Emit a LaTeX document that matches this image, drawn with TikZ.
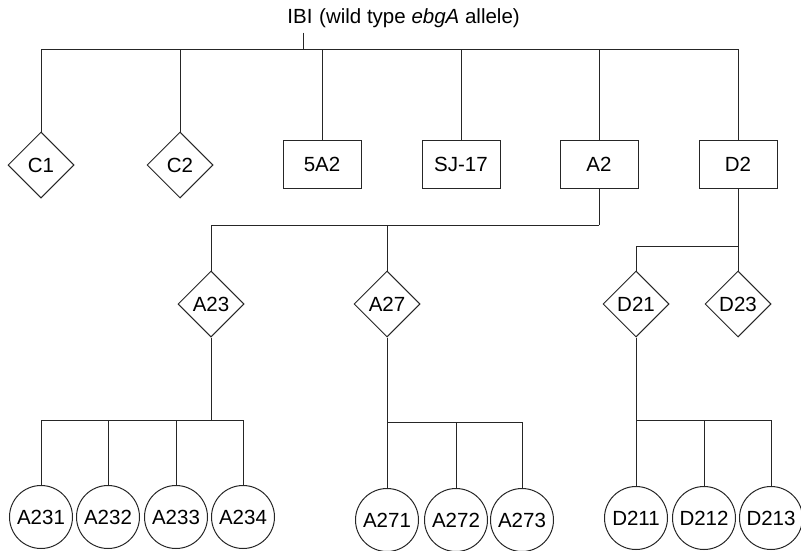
\documentclass[tikz,border=0pt]{standalone}
\usepackage{fontspec}
\setmainfont{Liberation Sans}
\usepackage{tikz}
\usetikzlibrary{
  positioning,
  shapes.geometric
}
\tikzset{
  isolate/.style={diamond, draw, aspect=1, minimum width=66pt, minimum height=66pt, inner sep=0pt},
  strain/.style={rectangle, draw, minimum width=78pt, minimum height=48pt, inner sep=0pt},
  clone/.style={circle, draw, minimum size=63pt, inner sep=0pt},
  tree/.style={draw=black!85, line width=1pt}
}

\begin{document}
\begin{tikzpicture}[
    x=1pt, y=-1pt,
    every node/.style={font=\fontsize{20.5}{24}\selectfont, draw=black!85, line width=1pt},
    plain/.style={draw=none, inner sep=0pt}
]
\useasboundingbox (0,0) rectangle (801,551);

% nodes
\node[plain] (IBI) at (300,16) {IBI};
\node[plain, base right=5.7pt of IBI] (IBItext) {(wild type \textit{ebgA} allele)};

\node[isolate] (C1)   at (41,165)  {C1};
\node[isolate] (C2)   at (180,165) {C2};
\node[strain]  (5A2)  at (322,164) {5A2};
\node[strain]  (SJ17) at (461,164) {SJ-17};
\node[strain]  (A2)   at (599,164) {A2};
\node[strain]  (D2)   at (738,164) {D2};

\node[isolate] (A23) at (211,304) {A23};
\node[isolate] (A27) at (387,304) {A27};
\node[isolate] (D21) at (636,304) {D21};
\node[isolate] (D23) at (738,304) {D23};

\node[clone] (A231) at (41,517)  {A231};
\node[clone] (A232) at (108,517) {A232};
\node[clone] (A233) at (176,517) {A233};
\node[clone] (A234) at (243,517) {A234};
\node[clone] (A271) at (387,520) {A271};
\node[clone] (A272) at (456,520) {A272};
\node[clone] (A273) at (522,520) {A273};
\node[clone] (D211) at (636,518) {D211};
\node[clone] (D212) at (704,518) {D212};
\node[clone] (D213) at (771,518) {D213};

% branch points
\coordinate (j0)   at (303,50);
\coordinate (jA2)  at (599,225);
\coordinate (jD2)  at (738,246);
\coordinate (jA23) at (211,420);
\coordinate (jA27) at (387,422);
\coordinate (jD21) at (636,420);

% lines
\draw[tree] ([yshift=-9pt]IBI.south -| j0) -- (j0);
\draw[tree] (j0) -| (C1);
\draw[tree] (j0) -| (C2);
\draw[tree] (j0) -| (5A2);
\draw[tree] (j0) -| (SJ17);
\draw[tree] (j0) -| (A2);
\draw[tree] (j0) -| (D2);

\draw[tree] (A2) -- (jA2);
\draw[tree] (jA2) -| (A23);
\draw[tree] (jA2) -| (A27);
\draw[tree] (D2) -- (jD2);
\draw[tree] (jD2) -| (D21);
\draw[tree] (jD2) -| (D23);

\draw[tree] (A23) -- (jA23);
\draw[tree] (jA23) -| (A231);
\draw[tree] (jA23) -| (A232);
\draw[tree] (jA23) -| (A233);
\draw[tree] (jA23) -| (A234);
\draw[tree] (A27) -- (jA27);
\draw[tree] (jA27) -| (A271);
\draw[tree] (jA27) -| (A272);
\draw[tree] (jA27) -| (A273);
\draw[tree] (D21) -- (jD21);
\draw[tree] (jD21) -| (D211);
\draw[tree] (jD21) -| (D212);
\draw[tree] (jD21) -| (D213);

\end{tikzpicture}
\end{document}
